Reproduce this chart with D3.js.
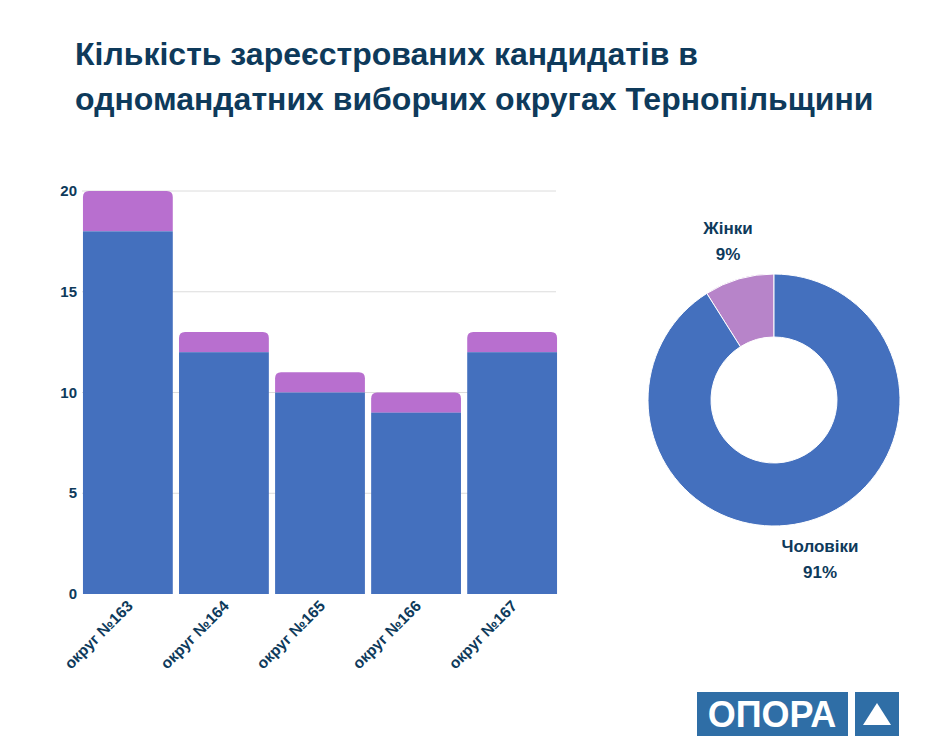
<!DOCTYPE html>
<html><head><meta charset="utf-8">
<script src="https://cdn.jsdelivr.net/npm/d3@7"></script>
<style>body{margin:0;background:#fff;font-family:"Liberation Sans",Arial,sans-serif}</style>
</head><body>
<svg id="chart" width="945" height="756"></svg>
<script>
const districts = ['округ №163', 'округ №164', 'округ №165', 'округ №166', 'округ №167'];
const men = [18, 12, 10, 9, 12];
const women = [2, 1, 1, 1, 1];
const yTicks = [0, 5, 10, 15, 20];
const genderLabels = ['Жінки', 'Чоловіки'];
const genderTotals = [d3.sum(women), d3.sum(men)];

const svg = d3.select('#chart');
const navy = '#0e3a5b';
const blue = '#4470be';
const purple = '#b86fcf';

svg.append('text').attr('x', 75).attr('y', 65)
  .attr('font-size', 32).attr('font-weight', 'bold').attr('fill', navy)
  .text('Кількість зареєстрованих кандидатів в');
svg.append('text').attr('x', 75).attr('y', 110)
  .attr('font-size', 32).attr('font-weight', 'bold').attr('fill', navy)
  .text('одномандатних виборчих округах Тернопільщини');

const x = d3.scaleBand().domain(districts).range([82, 558]).paddingInner(0.065).paddingOuter(0.01);
const y = d3.scaleLinear().domain([0, 20]).range([594, 191]);

const g = svg.append('g');
g.selectAll('.grid').data(yTicks.slice(1)).enter().append('line')
  .attr('x1', 82).attr('x2', 556)
  .attr('y1', (d) => y(d)).attr('y2', (d) => y(d))
  .attr('stroke', '#dcdcdc');
g.selectAll('.tick').data(yTicks).enter().append('text')
  .attr('x', 77).attr('y', (d) => y(d) + 5)
  .attr('text-anchor', 'end').attr('font-size', 15).attr('font-weight', 'bold')
  .attr('fill', navy).text((d) => d);

const bw = x.bandwidth();
const r = 6;
g.selectAll('.women').data(districts).enter().append('path')
  .attr('fill', purple)
  .attr('d', (d, i) => {
    const x0 = x(d);
    const yt = y(men[i] + women[i]);
    const yb = y(men[i]);
    return `M${x0},${yb}V${yt + r}Q${x0},${yt} ${x0 + r},${yt}H${x0 + bw - r}Q${x0 + bw},${yt} ${x0 + bw},${yt + r}V${yb}Z`;
  });
g.selectAll('.men').data(districts).enter().append('rect')
  .attr('fill', blue)
  .attr('x', (d) => x(d)).attr('width', bw)
  .attr('y', (d, i) => y(men[i])).attr('height', (d, i) => y(0) - y(men[i]));

g.selectAll('.xl').data(districts).enter().append('text')
  .attr('transform', (d) => `translate(${x(d) + bw / 2 + 6},${607}) rotate(-45)`)
  .attr('text-anchor', 'end').attr('font-size', 15.5).attr('font-weight', 'bold')
  .attr('fill', navy).text((d) => d);

// donut
const cx = 774, cy = 400;
const total = d3.sum(genderTotals);
const pie = d3.pie().sort(null).startAngle(-2 * Math.PI * genderTotals[0] / total)
  .endAngle(2 * Math.PI - 2 * Math.PI * genderTotals[0] / total);
const arc = d3.arc().innerRadius(63).outerRadius(126);
svg.append('g').attr('transform', `translate(${cx},${cy})`)
  .selectAll('path').data(pie(genderTotals)).enter().append('path')
  .attr('d', arc).attr('fill', (d, i) => i === 0 ? '#b784c9' : blue)
  .attr('stroke', '#fff').attr('stroke-width', 1);

const labelPos = [[728, 234], [820, 552]];
genderLabels.forEach((l, i) => {
  const t = svg.append('text').attr('text-anchor', 'middle')
    .attr('font-size', 17).attr('font-weight', 'bold').attr('fill', navy);
  t.append('tspan').attr('x', labelPos[i][0]).attr('y', labelPos[i][1]).text(l);
  t.append('tspan').attr('x', labelPos[i][0]).attr('y', labelPos[i][1] + 26)
    .text(Math.round(genderTotals[i] / total * 100) + '%');
});

// logo
svg.append('rect').attr('x', 697).attr('y', 692).attr('width', 151).attr('height', 44).attr('fill', '#2f6ea6');
svg.append('text').attr('x', 772).attr('y', 727).attr('text-anchor', 'middle')
  .attr('font-size', 36).attr('font-weight', 'bold').attr('fill', '#fff').text('ОПОРА');
svg.append('rect').attr('x', 855).attr('y', 692).attr('width', 44).attr('height', 44).attr('fill', '#2f6ea6');
svg.append('path').attr('d', 'M877,703L891,725H863Z').attr('fill', '#fff');
</script>
</body></html>
